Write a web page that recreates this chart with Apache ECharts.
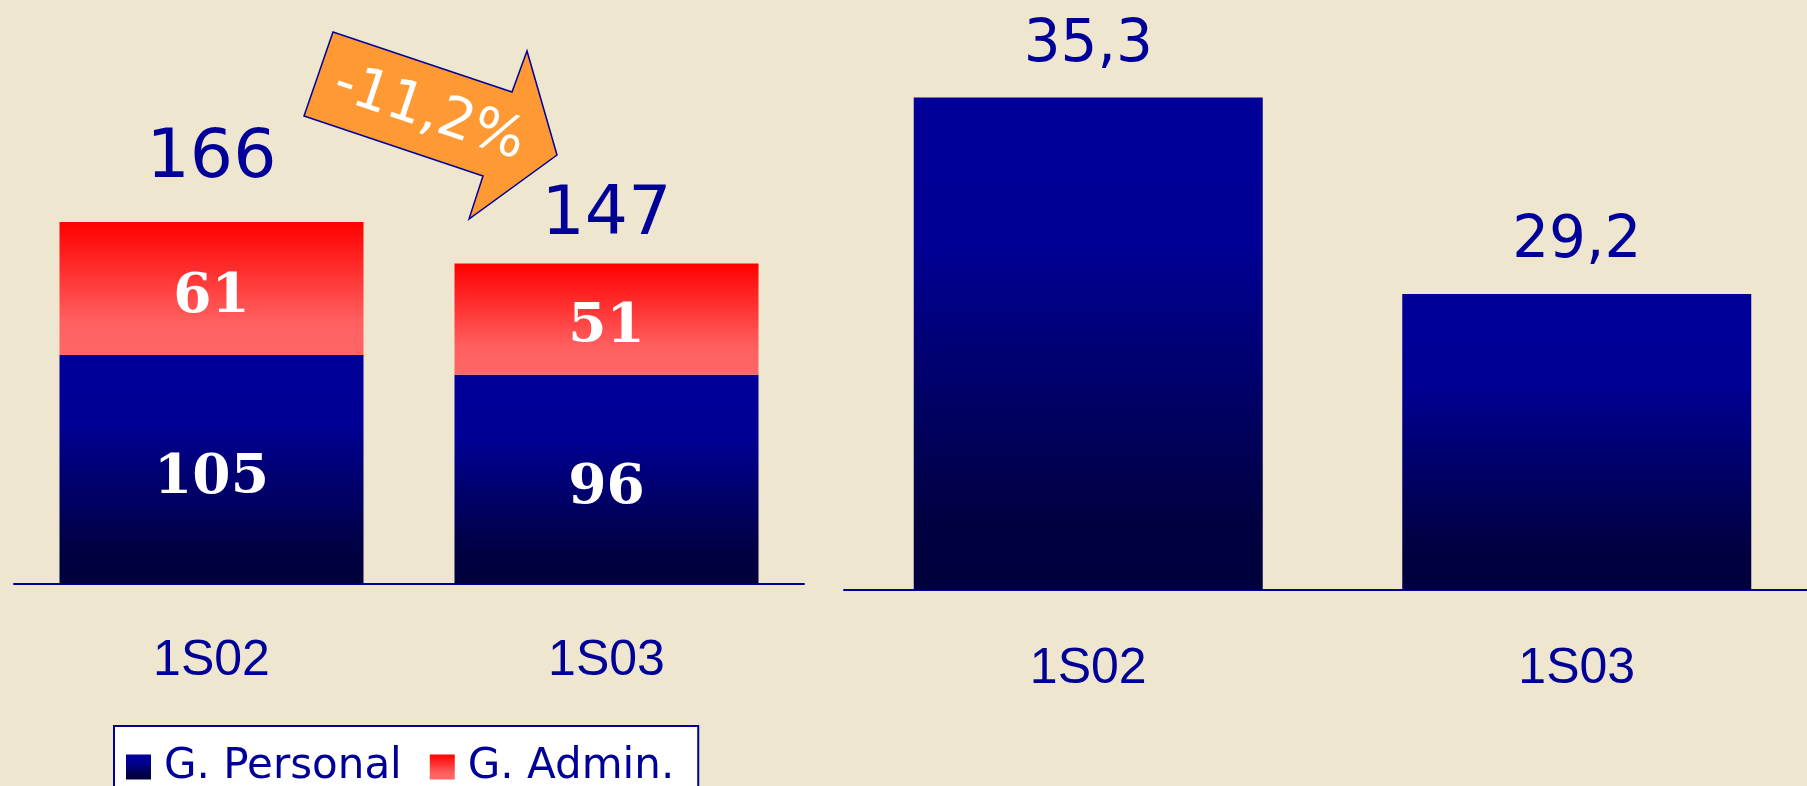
<!DOCTYPE html>
<html>
<head>
<meta charset="utf-8">
<script src="https://cdn.jsdelivr.net/npm/echarts@6/dist/echarts.min.js"></script>
<style>
html,body{margin:0;padding:0;background:#EFE6D0;overflow:hidden;width:1807px;height:786px;}
#chart{width:1821px;height:786px;}
</style>
</head>
<body>
<div id="chart"></div>
<script>
// ---- data ----
const categories = ['1S02', '1S03'];
const personal = [105, 96];
const admin = [61, 51];
const totals = [166, 147];
const rightCategories = ['1S02', '1S03'];
const rightValues = [35.3, 29.2];
const changeText = '-11,2%';
const legendNames = ['G. Personal', 'G. Admin.'];

// ---- styles ----
const NAVY = '#000099';
const blueGrad = {type:'linear', x:0, y:0, x2:0, y2:1, colorStops:[
  {offset:0, color:'#000099'}, {offset:0.3, color:'#000094'}, {offset:0.85, color:'#000042'}, {offset:1, color:'#00003C'}]};
const redGrad = {type:'linear', x:0, y:0, x2:0, y2:1, colorStops:[
  {offset:0, color:'#FF0000'}, {offset:0.75, color:'#FF6060'}, {offset:1, color:'#FF6666'}]};
const totalDist = [29, 13];
const sans = '"Liberation Sans", Arial, sans-serif';
const wide = '"DejaVu Sans", sans-serif';

const chart = echarts.init(document.getElementById('chart'));
const innerLabel = {show:true, position:'inside', color:'#ffffff', offset:[0, 9],
  fontFamily:'"DejaVu Serif", serif', fontWeight:'bold', fontSize:55};

chart.setOption({
  backgroundColor:'#EFE6D0',
  animation:false,
  grid:[
    {left:14, width:790, top:148, bottom:202},
    {left:844, right:0, top:75, bottom:196}
  ],
  legend:{
    data:legendNames,
    left:114, top:726,
    orient:'horizontal',
    backgroundColor:'#ffffff',
    borderColor:NAVY, borderWidth:2,
    padding:[20, 24, 20, 12],
    itemWidth:25, itemHeight:25, itemGap:28,
    icon:'rect',
    textStyle:{color:NAVY, fontSize:42, fontFamily:wide, padding:[0,0,0,8]}
  },
  xAxis:[
    {type:'category', gridIndex:0, data:categories,
     axisLine:{lineStyle:{color:NAVY, width:2}}, axisTick:{show:false},
     axisLabel:{color:NAVY, fontSize:50, fontFamily:sans, margin:52}},
    {type:'category', gridIndex:1, data:rightCategories,
     axisLine:{lineStyle:{color:NAVY, width:2}}, axisTick:{show:false},
     axisLabel:{color:NAVY, fontSize:50, fontFamily:sans, margin:54}}
  ],
  yAxis:[
    {type:'value', gridIndex:0, min:0, max:200, show:false},
    {type:'value', gridIndex:1, min:20, max:36, show:false}
  ],
  series:[
    {name:legendNames[0], type:'bar', stack:'s', xAxisIndex:0, yAxisIndex:0, barWidth:304,
     data:personal, itemStyle:{color:blueGrad}, label:innerLabel},
    {name:legendNames[1], type:'bar', stack:'s', xAxisIndex:0, yAxisIndex:0, barWidth:304,
     data:admin, itemStyle:{color:redGrad}, label:innerLabel},
    {name:'total', type:'bar', stack:'s', xAxisIndex:0, yAxisIndex:0, barWidth:304,
     data:totals.map((t,i)=>({value:0, label:{distance:totalDist[i]}})),
     itemStyle:{color:'transparent'},
     label:{show:true, position:'top', color:NAVY, fontSize:68, fontFamily:wide,
       formatter:p=>String(totals[p.dataIndex])}},
    {name:'right', type:'bar', xAxisIndex:1, yAxisIndex:1, barWidth:349, clip:true,
     data:rightValues, itemStyle:{color:blueGrad},
     label:{show:true, position:'top', distance:23, color:NAVY, fontSize:58, fontFamily:wide,
       formatter:p=>String(p.value).replace('.', ',')}}
  ],
  graphic:[
    {type:'polygon', z:100,
     shape:{points:[[333,32],[512,92],[527,51],[557,155],[469,219],[483,176],[304,116]]},
     style:{fill:'#FF9933', stroke:NAVY, lineWidth:1.5}},
    {type:'text', z:101, x:429, y:114, rotation:-18.5*Math.PI/180,
     style:{text:changeText, fill:'#ffffff', font:'56px "DejaVu Sans", sans-serif',
       textAlign:'center', textVerticalAlign:'middle', align:'center', verticalAlign:'middle'}}
  ]
});
</script>
</body>
</html>
